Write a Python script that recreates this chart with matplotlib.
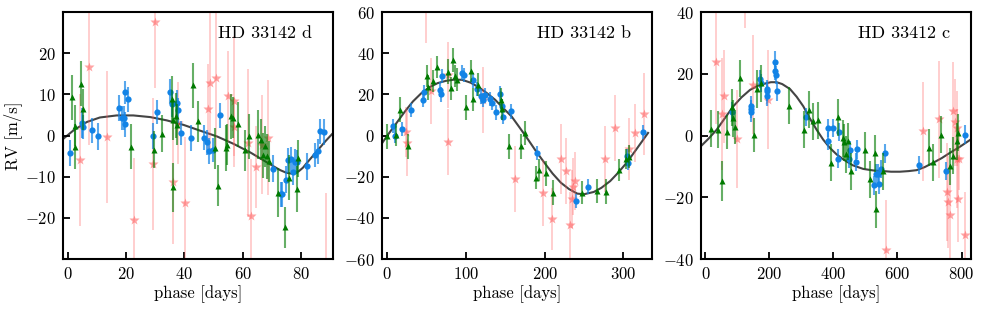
import matplotlib
matplotlib.use("Agg")
import matplotlib.pyplot as plt
from matplotlib.colors import to_rgba

plt.rcParams['font.family'] = 'cmr10'
plt.rcParams['mathtext.fontset'] = 'cm'
plt.rcParams['axes.formatter.use_mathtext'] = True
plt.rcParams['axes.unicode_minus'] = True

# ---- HD 33142 d ----
d_blue_ph = [0.6, 4.6, 5.2, 8.1, 10.1, 17.6, 18.5, 19.2, 19.4, 19.5, 20.6, 29.1, 30.6, 34.9, 35.8, 37.4, 37.9,
             38.9, 42.4, 46.8, 47.8, 48.6, 50.0, 52.4, 70.5, 73.1, 73.5, 74.9, 75.6, 76.7, 77.4, 78.1, 78.8,
             82.2, 85.1, 86.1, 86.8, 88.2]
d_blue_rv = [-4.3, 3.0, 2.1, 1.3, -0.2, 6.7, 4.3, 4.3, 10.5, 2.7, 8.8, -0.1, 5.7, 10.7, 7.7, 8.0, 6.1,
             0.6, -0.6, -0.5, -1.6, -3.8, -3.5, 4.9, -8.0, -14.3, -14.3, -10.7, -6.0, -5.8, -8.8, -6.3, -6.4,
             -7.5, -4.7, -3.8, 1.0, 0.8]
d_blue_err = [3.2, 3.6, 3.0, 3.0, 3.2, 3.2, 3.0, 3.0, 2.8, 3.0, 3.0, 3.2, 3.0, 3.0, 3.2, 3.0, 3.0,
              3.0, 3.2, 3.0, 3.0, 3.2, 3.0, 3.0, 3.2, 3.0, 3.0, 3.2, 3.0, 3.0, 3.2, 3.0, 3.0,
              3.2, 3.0, 3.0, 3.0, 3.2]
d_green_ph = [1.4, 2.2, 2.5, 4.5, 5.2, 21.5, 29.7, 32.2, 35.7, 36.0, 36.2, 37.0, 37.6, 42.8, 44.8, 50.6, 51.5,
              54.3, 54.7, 56.1, 56.6, 58.4, 60.7, 62.1, 65.5, 66.3, 67.2, 67.8, 68.4, 69.2, 72.2, 74.7, 76.0,
              78.7, 79.2]
d_green_rv = [9.3, -2.7, 2.4, 12.6, 6.4, -2.7, -3.4, 0.4, 9.0, 3.9, -12.6, 4.8, 2.6, 12.2, 3.5, -3.1, -12.2,
              -3.0, -2.2, 4.7, 4.3, 2.7, -3.6, -0.2, 0.2, -1.0, -4.8, -2.6, -5.0, -6.2, -13.9, -22.3, -10.2,
              -13.0, -5.5]
d_green_err = [5.5, 5.5, 5.0, 5.5, 5.0, 5.5, 4.5, 4.5, 5.5, 5.0, 6.0, 5.5, 5.0, 5.5, 5.0, 5.0, 5.0,
               5.5, 5.0, 5.5, 5.0, 5.5, 5.0, 5.5, 6.0, 5.0, 5.5, 5.0, 5.5, 5.0, 6.0, 5.0, 5.5,
               5.5, 4.5]
d_red_ph = [4.0, 7.2, 13.2, 22.8, 29.1, 29.9, 35.9, 37.7, 40.1, 48.0, 48.9, 50.9, 54.9, 56.9, 56.9, 61.8,
            63.0, 64.8, 66.7, 68.7, 88.7]
d_red_rv = [-6.0, 16.7, -0.4, -20.4, -6.9, 27.6, -11.3, 3.1, -16.3, 6.5, 12.9, 14.1, 9.5, 8.3, 2.1, -1.9,
            -19.6, -7.6, -2.2, -0.5, -33.0]
d_red_err = [16, 19, 16, 15, 16, 16, 15, 10, 16, 11, 17, 17, 11, 16, 7, 18, 14, 10, 12, 14, 19]
d_model_ph = [-1.9, 1.7, 6.4, 10.9, 16.7, 22.4, 28.2, 33.9, 39.7, 45.4, 51.2, 56.9, 62.7, 68.4, 71.0, 73.0,
              75.0, 76.5, 78.0, 79.3, 80.8, 82.2, 85.6, 88.5, 91.4]
d_model_rv = [-0.9, 1.2, 3.3, 4.4, 4.9, 4.9, 4.5, 3.7, 2.6, 1.2, -0.2, -2.0, -4.1, -6.5, -7.6, -8.4,
              -9.0, -9.2, -9.1, -8.7, -7.8, -6.6, -3.8, -1.4, 0.8]

# ---- HD 33142 b ----
b_blue_ph = [7.6, 10.1, 18.1, 29.9, 45.0, 47.0, 67.0, 68.1, 69.4, 95.4, 97.5, 109.5, 114.0, 119.0, 121.5,
             124.0, 130.0, 133.7, 138.3, 143.0, 145.5, 147.0, 157.5, 190.5, 240.0, 254.5, 304.5, 306.5, 324.5]
b_blue_rv = [4.8, -0.3, 3.2, 12.3, 17.5, 21.1, 22.4, 20.0, 29.0, 30.6, 29.5, 26.8, 22.5, 19.0, 17.3,
             19.8, 17.7, 15.8, 11.3, 20.4, 14.4, 9.0, 11.8, -8.4, -31.7, -24.8, -10.0, -13.2, 1.8]
b_blue_err = [3.5, 3.5, 3.5, 3.5, 3.5, 3.5, 3.5, 3.5, 3.5, 3.5, 3.5, 3.5, 3.5, 3.5, 3.5,
              3.5, 3.5, 3.5, 3.5, 3.5, 3.5, 3.5, 3.5, 3.5, 3.5, 3.5, 3.5, 3.5, 3.5]
b_green_ph = [0.0, 11.3, 16.5, 26.5, 50.6, 51.5, 58.0, 63.0, 77.0, 80.5, 83.7, 86.0, 88.5, 100.5, 106.0,
              109.5, 115.5, 144.0, 145.4, 154.5, 170.0, 175.0, 189.5, 192.5, 201.5, 211.0, 248.0, 266.0,
              277.5, 295.0, 303.0, 307.0]
b_green_rv = [-0.3, 0.3, 12.6, -5.2, 29.0, 23.5, 26.5, 33.4, 31.1, 23.0, 36.8, 29.0, 27.2, 13.8, 31.4,
              17.6, 24.8, 17.5, 12.7, -5.2, -5.2, 1.2, -20.4, -16.7, -18.4, -27.8, -27.8, -26.9,
              -27.3, -16.7, -11.3, -10.2]
b_green_err = [6.0, 5.5, 6.0, 6.0, 5.5, 6.0, 5.5, 5.5, 6.0, 5.5, 6.0, 5.5, 5.5, 6.0, 5.5,
               5.5, 5.5, 5.5, 5.0, 6.0, 6.0, 6.0, 5.5, 5.5, 6.0, 6.0, 5.5, 6.0,
               6.0, 5.5, 5.0, 5.5]
b_red_ph = [23.5, 25.0, 49.3, 55.0, 77.0, 77.5, 122.0, 162.0, 198.0, 209.5, 220.5, 226.5, 232.5, 235.2,
            236.6, 238.2, 277.0, 289.0, 307.8, 314.5, 326.2]
b_red_rv = [1.8, -3.8, 62.0, 21.8, -3.0, 29.5, 17.5, -21.1, -27.7, -40.6, -11.6, -17.2, -43.5, -30.9,
            -24.8, -22.0, -11.3, 3.8, -6.5, 1.3, 10.6]
b_red_err = [12, 16, 17, 16, 16, 16, 16, 16, 16, 15, 17, 16, 16, 14, 14, 14, 16, 16, 15, 14, 20]
b_model_ph = [-6.3, 1.0, 11.7, 22.0, 32.6, 43.0, 53.5, 64.0, 74.4, 85.0, 95.3, 106.0, 116.2, 126.0, 137.1,
              147.0, 158.0, 168.0, 178.9, 189.0, 199.7, 210.0, 220.6, 231.0, 241.5, 250.0, 262.4, 272.0,
              283.3, 293.0, 304.2, 315.0, 331.4]
b_model_rv = [-3.5, 0.5, 6.1, 11.5, 16.6, 20.5, 23.5, 25.5, 26.6, 27.2, 27.1, 25.7, 23.5, 20.8, 17.4,
              13.5, 9.3, 4.0, -1.9, -7.6, -13.2, -18.4, -22.9, -26.0, -28.2, -28.5, -27.4, -25.4,
              -22.1, -18.2, -13.2, -7.5, 1.3]

# ---- HD 33412 c ----
c_blue_ph = [82.3, 141.6, 141.6, 142.6, 170.7, 172.8, 191.5, 191.5, 193.6, 218.5, 218.5, 220.6, 222.7,
             314.2, 381.8, 381.8, 399.5, 415.1, 418.2, 448.4, 451.5, 472.3, 470.2, 526.4, 532.6, 539.9,
             543.0, 547.2, 560.7, 665.7, 750.0, 810.3]
c_blue_rv = [7.8, 9.7, 8.6, 7.5, 18.3, 17.0, 15.1, 14.3, 12.7, 24.0, 21.0, 19.7, 14.3,
             6.0, 2.5, -1.8, 2.5, -7.5, 1.1, -7.5, -4.7, -4.5, -8.6, -16.1, -12.3, -12.3,
             -15.8, -10.8, -5.8, -9.6, -11.5, 0.3]
c_blue_err = [3.0, 3.0, 3.0, 3.0, 3.0, 3.0, 3.0, 3.0, 3.0, 3.5, 3.0, 3.0, 3.0,
              3.0, 3.0, 3.0, 3.0, 3.0, 3.0, 3.0, 3.0, 3.0, 3.0, 3.0, 3.0, 3.0,
              3.0, 3.0, 3.0, 3.0, 3.0, 3.0]
c_green_ph = [16.8, 38.6, 51.1, 66.7, 84.4, 87.5, 92.7, 108.3, 150.9, 162.4, 172.8, 261.2, 309.0, 324.6,
              335.0, 352.7, 391.2, 415.1, 430.7, 433.8, 439.0, 444.2, 454.6, 498.3, 513.9, 529.5, 532.6,
              555.5, 698.0, 711.5, 734.4, 763.5, 773.9, 784.3, 789.5]
c_green_rv = [2.2, 1.9, -14.7, 1.1, 9.2, 5.6, 2.8, 18.6, 0.3, 15.1, 17.0, 9.7, 1.9, 8.4,
              4.6, 4.9, -8.8, 6.0, -0.8, -2.2, -6.1, -1.8, -11.5, -4.7, -14.2, -5.8, -23.9,
              -11.5, -4.0, -8.6, 0.3, -9.9, -6.5, -1.8, 0.9]
c_green_err = [6.0, 6.0, 6.5, 5.5, 6.0, 6.0, 5.5, 6.0, 5.5, 6.0, 6.0, 6.0, 6.0, 6.0,
               6.0, 6.0, 6.0, 6.0, 6.0, 6.0, 6.0, 6.0, 6.0, 6.0, 6.0, 6.0, 6.0,
               6.0, 6.0, 6.0, 6.0, 6.0, 6.0, 6.0, 6.0]
c_red_ph = [33.4, 51.1, 58.4, 97.9, 125.0, 149.9, 196.7, 565.0, 679.5, 729.0, 753.5, 757.5, 762.5, 774.3,
            779.0, 785.0, 786.5, 789.0, 791.5, 810.0]
c_red_rv = [23.7, 7.0, 12.7, -1.1, 48.0, 16.5, 11.6, -37.0, 1.4, 5.3, -18.3, -21.5, -25.6, 8.0,
            4.3, 2.3, -7.5, -20.4, -7.7, -32.3]
c_red_err = [20, 18, 15, 16, 13, 16, 16, 16, 16, 19, 16, 15, 16, 16, 14, 12, 16, 14, 10, 14]
c_model_ph = [-13.4, 10.0, 35.5, 60.0, 87.5, 113.0, 139.5, 165.0, 191.5, 205.0, 222.7, 240.0, 264.3,
              285.0, 305.9, 325.0, 347.5, 368.0, 389.1, 410.0, 430.7, 460.0, 493.1, 525.0, 555.5,
              580.0, 607.5, 635.0, 659.5, 685.0, 711.5, 738.0, 763.5, 795.0, 831.0]
c_model_rv = [-3.4, -1.0, 1.9, 5.5, 9.5, 12.4, 14.8, 16.2, 17.0, 17.3, 17.3, 16.7, 15.1,
              12.6, 9.5, 5.8, 1.9, -1.3, -4.0, -6.1, -7.7, -9.6, -10.8, -11.3, -11.5,
              -11.7, -11.7, -11.5, -11.2, -10.2, -8.8, -7.3, -5.6, -3.6, -1.1]

panels = [
    dict(name='HD 33142 d', xlim=(-1.8, 91.3), ylim=(-30, 30), xticks=[0, 20, 40, 60, 80],
         yticks=[-20, -10, 0, 10, 20],
         blue=(d_blue_ph, d_blue_rv, d_blue_err), green=(d_green_ph, d_green_rv, d_green_err),
         red=(d_red_ph, d_red_rv, d_red_err), model=(d_model_ph, d_model_rv)),
    dict(name='HD 33142 b', xlim=(-6.7, 337), ylim=(-60, 60), xticks=[0, 100, 200, 300],
         yticks=[-60, -40, -20, 0, 20, 40, 60],
         blue=(b_blue_ph, b_blue_rv, b_blue_err), green=(b_green_ph, b_green_rv, b_green_err),
         red=(b_red_ph, b_red_rv, b_red_err), model=(b_model_ph, b_model_rv)),
    dict(name='HD 33412 c', xlim=(-13.4, 831), ylim=(-40, 40), xticks=[0, 200, 400, 600, 800],
         yticks=[-40, -20, 0, 20, 40],
         blue=(c_blue_ph, c_blue_rv, c_blue_err), green=(c_green_ph, c_green_rv, c_green_err),
         red=(c_red_ph, c_red_rv, c_red_err), model=(c_model_ph, c_model_rv)),
]

blue = '#1283e6'
green = '#007a00'
red = '#ff5a5a'

fig = plt.figure(figsize=(9.81, 3.11), dpi=100)
lefts = [0.0642, 0.3894, 0.7146]

for i, p in enumerate(panels):
    ax = fig.add_axes([lefts[i], 0.167, 0.2757, 0.794])

    ax.plot(*p['model'], color='#444444', lw=1.5, zorder=1)

    x, y, e = p['red']
    ax.errorbar(x, y, yerr=e, fmt='*', ms=7, color=to_rgba(red, 0.55), mec='none',
                ecolor=to_rgba(red, 0.35), elinewidth=1.2, capsize=0, zorder=2)
    x, y, e = p['blue']
    ax.errorbar(x, y, yerr=e, fmt='o', ms=4.5, color=blue, mec='none',
                ecolor=to_rgba(blue, 0.7), elinewidth=1.5, capsize=0, zorder=3)
    x, y, e = p['green']
    ax.errorbar(x, y, yerr=e, fmt='^', ms=4.5, color=green, mec='none',
                ecolor=to_rgba(green, 0.6), elinewidth=1.5, capsize=0, zorder=4)

    ax.set_xlim(*p['xlim'])
    ax.set_ylim(*p['ylim'])
    ax.set_xticks(p['xticks'])
    ax.set_yticks(p['yticks'])
    ax.tick_params(direction='in', length=5, width=1.3, labelsize=12, pad=5)
    for s in ax.spines.values():
        s.set_linewidth(1.5)
    ax.set_xlabel('phase [days]', fontsize=12, labelpad=2)
    if i == 0:
        ax.set_ylabel('RV [m/s]', fontsize=12, labelpad=2)
    ax.text(0.92, 0.945, p['name'], transform=ax.transAxes, ha='right', va='top', fontsize=13)

fig.savefig('out.png', dpi=100)
